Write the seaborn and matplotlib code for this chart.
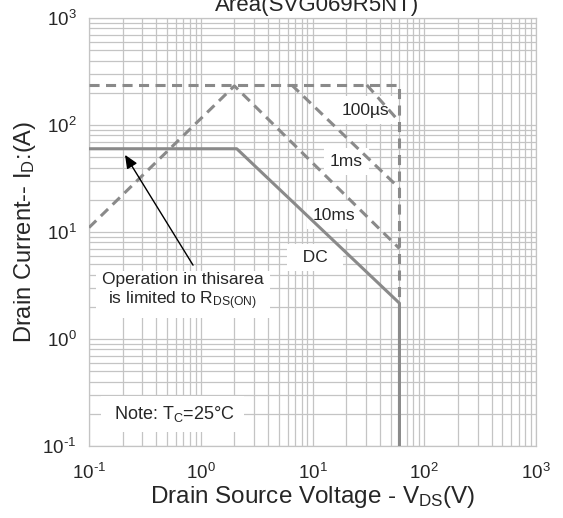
import matplotlib
matplotlib.use("Agg")
import matplotlib.pyplot as plt
import seaborn as sns
import pandas as pd

# ---- data ----
limit_v = [0.1, 60, 60]            # pulse limit outline (top + vertical)
limit_i = [237, 237, 2.16]
rds_10ms_v = [0.1, 2.0, 60]        # R_DS(on) limit + 10 ms line
rds_10ms_i = [11, 232, 7.0]
ms1_v = [6.5, 60]                  # 1 ms
ms1_i = [237, 25.6]
us100_v = [30.6, 60]               # 100 us
us100_i = [237, 107]
dc_v = [0.1, 2.1, 60, 60]          # DC
dc_i = [60, 60, 2.16, 0.1]

x_ticks = [0.1, 1, 10, 100, 1000]
y_ticks = [0.1, 1, 10, 100, 1000]
tick_labels = ["10$^{\\text{-1}}$", "10$^{0}$", "10$^{1}$", "10$^{2}$", "10$^{3}$"]
curve_labels = ["100µs", "1ms", "10ms", "DC"]

sns.set_style("white")
plt.rcParams["font.family"] = ["Liberation Sans", "DejaVu Sans"]
plt.rcParams["mathtext.fontset"] = "custom"
plt.rcParams["mathtext.rm"] = "Liberation Sans"
plt.rcParams["mathtext.it"] = "Liberation Sans:italic"
plt.rcParams["mathtext.bf"] = "Liberation Sans:bold"
plt.rcParams["mathtext.default"] = "regular"
plt.rcParams["axes.unicode_minus"] = False

fig = plt.figure(figsize=(5.63, 5.18), dpi=100)
ax = fig.add_axes([89 / 563, 72 / 518, 447 / 563, 428 / 518])

gray = "#8a8a8a"
dash = (0, (3.3, 2.1))
lw = 2.2

def draw(xv, yv, ls):
    df = pd.DataFrame({"V": xv, "I": yv})
    sns.lineplot(data=df, x="V", y="I", ax=ax, estimator=None, sort=False,
                 color=gray, lw=lw, linestyle=ls, zorder=4)

draw(limit_v, limit_i, dash)
draw(rds_10ms_v, rds_10ms_i, dash)
draw(ms1_v, ms1_i, dash)
draw(us100_v, us100_i, dash)
draw(dc_v, dc_i, "-")

ax.set_xscale("log")
ax.set_yscale("log")
ax.set_xlim(x_ticks[0], x_ticks[-1])
ax.set_ylim(y_ticks[0], y_ticks[-1])
ax.set_xticks(x_ticks)
ax.set_yticks(y_ticks)
ax.set_xticklabels(tick_labels)
ax.set_yticklabels(tick_labels)
ax.set_axisbelow(True)
ax.grid(which="both", color="#c4c4c4", lw=0.9)
ax.tick_params(which="both", length=0, labelsize=13.5)
ax.tick_params(axis="x", pad=12)
ax.tick_params(axis="y", pad=9)
for s in ax.spines.values():
    s.set_color("#c4c4c4")
    s.set_linewidth(0.9)

ax.set_xlabel("Drain Source Voltage - V$_{DS}$(V)", fontsize=17.5, labelpad=1)
ax.set_ylabel("Drain Current-- I$_{D}$:(A)", fontsize=17, labelpad=3)

box = dict(facecolor="white", edgecolor="none", boxstyle="square,pad=0.35")
tkw = dict(fontsize=12.5, ha="center", va="center", zorder=3, bbox=box)
ax.text(30, 138, curve_labels[0], **tkw)
ax.text(20, 46, curve_labels[1], **tkw)
ax.text(15.6, 14.4, curve_labels[2], **tkw)
ax.text(10.5, 5.8, "  " + curve_labels[3] + "  ", **tkw)
ax.text(0.69, 2.75, "Operation in thisarea\nis limited to R$_{DS(ON)}$",
        fontsize=12.5, ha="center", va="center", zorder=3, linespacing=1.15,
        bbox=dict(facecolor="white", edgecolor="none", boxstyle="square,pad=0.35"))
ax.text(0.56, 0.2, " Note: T$_C$=25°C ", fontsize=13, ha="center",
        va="center", zorder=3,
        bbox=dict(facecolor="white", edgecolor="none", boxstyle="square,pad=0.45"))
ax.annotate("", xy=(0.21, 52.6), xytext=(0.853, 4.9), zorder=5,
            arrowprops=dict(arrowstyle="-|>,head_length=0.8,head_width=0.35",
                            color="black", lw=1.0, shrinkA=0, shrinkB=0))

fig.text(317 / 563, 1 - 11 / 518, "Area(SVG069R5NT)", fontsize=16,
         ha="center", va="baseline")

fig.savefig("out.png", dpi=100)
